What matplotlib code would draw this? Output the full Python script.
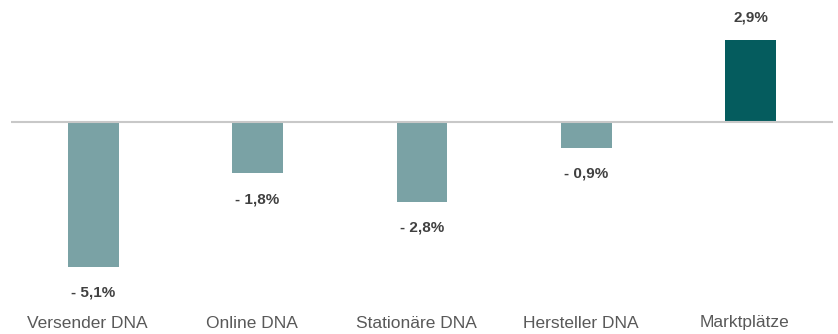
import matplotlib.pyplot as plt
from matplotlib.transforms import blended_transform_factory, offset_copy

plt.rcParams['font.family'] = ['Liberation Sans', 'DejaVu Sans']

categories = ['Versender DNA', 'Online DNA', 'Stationäre DNA', 'Hersteller DNA', 'Marktplätze']
values = [-5.1, -1.8, -2.8, -0.9, 2.9]

neg_color = '#7aa2a5'
pos_color = '#055c5e'
label_color = '#404040'
cat_color = '#595959'

fig = plt.figure(figsize=(8.38, 3.34), dpi=100)
ax = fig.add_axes([11 / 838, 0, 822 / 838, 1])

x = list(range(len(categories)))
colors = [pos_color if v > 0 else neg_color for v in values]
ax.bar(x, values, width=0.31, color=colors, zorder=2)
ax.axhline(0, color='#c8c8c8', linewidth=1.5, zorder=3)

ax.set_xlim(-0.5, len(categories) - 0.5)
ax.set_ylim(-7.46, 4.29)
ax.axis('off')

# value labels, German decimal comma, "- " prefix for negatives
for xi, v in zip(x, values):
    txt = f'{abs(v):.1f}'.replace('.', ',') + '%'
    if v < 0:
        txt = '- ' + txt
        offset = -18.7
    else:
        offset = 15.8
    ax.annotate(txt, xy=(xi, v), xytext=(0, offset), textcoords='offset points',
                ha='center', va='center', fontsize=11, fontweight='bold',
                color=label_color)

# category names along the bottom, nudged slightly left
trans = blended_transform_factory(ax.transData, fig.transFigure)
trans = offset_copy(trans, fig=fig, x=-6, y=0, units='dots')
for xi, name in zip(x, categories):
    ax.text(xi, (334 - 323) / 334, name, transform=trans, ha='center', va='center',
            fontsize=12.5, color=cat_color)

fig.savefig('out.png', dpi=100)
